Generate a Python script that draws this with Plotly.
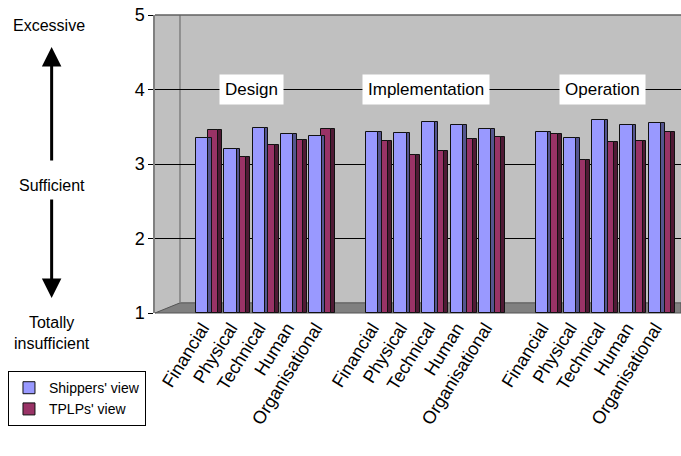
import plotly.graph_objects as go

# Assessment categories, repeated for each stage
categories = ["Financial", "Physical", "Technical", "Human", "Organisational"]
stages = ["Design", "Implementation", "Operation"]

# Mean ratings on a 1 (totally insufficient) to 5 (excessive) scale
shippers_design = [3.35, 3.20, 3.48, 3.40, 3.37]
shippers_implementation = [3.43, 3.42, 3.56, 3.52, 3.47]
shippers_operation = [3.43, 3.35, 3.59, 3.52, 3.55]

tplps_design = [3.45, 3.10, 3.25, 3.32, 3.47]
tplps_implementation = [3.31, 3.12, 3.18, 3.34, 3.36]
tplps_operation = [3.40, 3.06, 3.29, 3.31, 3.43]

y_ticks = [1, 2, 3, 4, 5]
FLOOR = 1  # bars rise from the bottom of the scale

shippers = shippers_design + shippers_implementation + shippers_operation
tplps = tplps_design + tplps_implementation + tplps_operation

# one empty slot between stage groups
slots = [g * 6 + j for g in range(len(stages)) for j in range(len(categories))]
labels = categories * len(stages)
group_centres = [1.75, 7.9, 14.15]

FONT = "Arial, Liberation Sans, sans-serif"
BLUE, BLUE_SIDE = "#9999FF", "#55558F"
PLUM, PLUM_SIDE = "#993366", "#4F1A35"
EDGE = dict(color="#111111", width=1)


def heights(values):
    return [v - FLOOR for v in values]


fig = go.Figure()

# rear series (TPLPs) first so the front series overlaps it; each bar gets a
# darker narrow side face to give a box look
fig.add_trace(go.Bar(x=[s + 0.63 for s in slots], y=heights(tplps), base=FLOOR, width=0.14,
                     marker=dict(color=PLUM_SIDE, line=EDGE), showlegend=False,
                     hoverinfo="skip"))
fig.add_trace(go.Bar(x=[s + 0.38 for s in slots], y=heights(tplps), base=FLOOR, width=0.36,
                     marker=dict(color=PLUM, line=EDGE), name="TPLPs' view",
                     showlegend=False))
fig.add_trace(go.Bar(x=[s + 0.28 for s in slots], y=heights(shippers), base=FLOOR, width=0.12,
                     marker=dict(color=BLUE_SIDE, line=EDGE), showlegend=False,
                     hoverinfo="skip"))
fig.add_trace(go.Bar(x=slots, y=heights(shippers), base=FLOOR, width=0.44,
                     marker=dict(color=BLUE, line=EDGE), name="Shippers' view",
                     showlegend=True, legendrank=1))
# legend entry for the rear series
fig.add_trace(go.Bar(x=[None], y=[None], marker=dict(color=PLUM, line=EDGE),
                     name="TPLPs' view", showlegend=True, legendrank=2))

annotations = []
for name, xc in zip(stages, group_centres):
    annotations.append(dict(x=xc, y=4, xref="x", yref="y", text=name, showarrow=False,
                            xanchor="center", yanchor="middle",
                            font=dict(family=FONT, size=17, color="black"),
                            bgcolor="white", borderpad=5))

side_text = dict(xref="paper", yref="paper", showarrow=False,
                 xanchor="center", yanchor="middle",
                 font=dict(family=FONT, size=16, color="black"))
annotations += [
    dict(x=-0.2015, y=0.966, text="Excessive", **side_text),
    dict(x=-0.196, y=0.4295, text="Sufficient", **side_text),
    dict(x=-0.196, y=-0.066, text="Totally<br>insufficient", **side_text),
    # up and down arrows
    dict(x=-0.1965, y=0.893, xref="paper", yref="paper", ax=0, ay=115, text="",
         showarrow=True, arrowhead=2, arrowsize=1.3, arrowwidth=3, arrowcolor="black"),
    dict(x=-0.1965, y=0.05, xref="paper", yref="paper", ax=0, ay=-100, text="",
         showarrow=True, arrowhead=2, arrowsize=1.3, arrowwidth=3, arrowcolor="black"),
]

shapes = [
    # floor of the box
    dict(type="path", xref="paper", yref="paper", layer="between",
         path="M 0 0 L 0.0475 0.034 L 1 0.034 L 1 0 Z",
         fillcolor="#808080", line=dict(color="#555555", width=1)),
    # back-wall corner
    dict(type="line", xref="paper", yref="paper", layer="between",
         x0=0.0475, x1=0.0475, y0=0.034, y1=1, line=dict(color="#808080", width=1.5)),
    # top edge of the wall
    dict(type="line", xref="paper", yref="paper", x0=0, x1=1, y0=1, y1=1,
         line=dict(color="#606060", width=1.5)),
]

fig.update_layout(
    width=681, height=456,
    margin=dict(l=155, r=0, t=15, b=143),
    paper_bgcolor="white", plot_bgcolor="#C0C0C0",
    barmode="overlay", bargap=0,
    font=dict(family=FONT, size=16, color="black"),
    annotations=annotations, shapes=shapes,
    legend=dict(x=-0.2795, y=-0.195, xanchor="left", yanchor="top",
                bgcolor="white", bordercolor="black", borderwidth=1,
                font=dict(family=FONT, size=14), itemwidth=30,
                tracegroupgap=2),
    showlegend=True,
)
fig.update_xaxes(range=[-1.67, 16.92], tickmode="array", tickvals=slots, ticktext=labels,
                 tickangle=-58, tickfont=dict(family=FONT, size=18),
                 showgrid=False, zeroline=False, showline=False, ticks="")
fig.update_yaxes(range=[1, 5], tickmode="array", tickvals=y_ticks,
                 tickfont=dict(family=FONT, size=18), showgrid=True,
                 gridcolor="#000000", gridwidth=1, zeroline=False,
                 showline=True, linecolor="#808080", linewidth=1.5,
                 ticks="outside", ticklen=5, tickcolor="#000000")

fig.write_html("out.html")
